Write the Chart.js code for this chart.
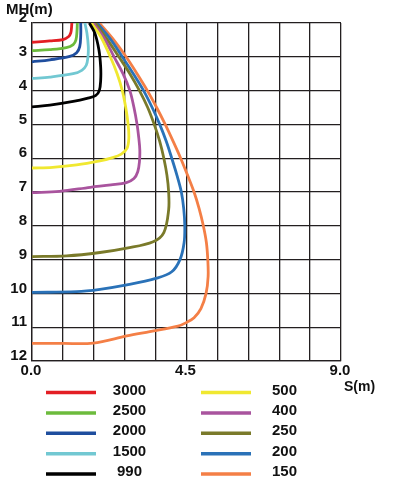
<!DOCTYPE html>
<html>
<head>
<meta charset="utf-8">
<script src="https://cdn.jsdelivr.net/npm/chart.js@4.4.1/dist/chart.umd.min.js"></script>
<style>
  html, body { margin: 0; padding: 0; background: #fff; }
  #wrap { position: relative; width: 397px; height: 490px; }
</style>
</head>
<body>
<div id="wrap"><canvas id="chart" width="397" height="490"></canvas></div>
<script>
  const FONT = "'Liberation Sans', Arial, sans-serif";
  const Y_TITLE = "MH(m)";
  const X_TITLE = "S(m)";

  // x grid every 0.9 m, labels only at these
  const xGrid = [0, 0.9, 1.8, 2.7, 3.6, 4.5, 5.4, 6.3, 7.2, 8.1, 9];
  const xLabels = [0, 4.5, 9];

  const seriesLabels = ["3000", "2500", "2000", "1500", "990", "500", "400", "250", "200", "150"];
  const seriesColors = ["#e31e24", "#6cbb3c", "#1f4e9e", "#72c8d2", "#000000",
                        "#f0e830", "#a9549e", "#7a7a2a", "#2a72b8", "#f47f46"];

  // [S, MH]
  const c3000 = [[1.16,2.0],[1.15,2.15],[1.13,2.29],[1.07,2.4],[0.9,2.49],[0.52,2.53],[0,2.57]];
  const c2500 = [[1.32,2.0],[1.31,2.25],[1.28,2.5],[1.2,2.64],[1.0,2.73],[0.52,2.79],[0,2.82]];
  const c2000 = [[1.42,2.0],[1.42,2.35],[1.39,2.7],[1.3,2.88],[1.1,2.99],[0.52,3.09],[0,3.15]];
  const c1500 = [[1.54,2.0],[1.6,2.3],[1.64,2.7],[1.63,3.0],[1.58,3.25],[1.45,3.4],[1.2,3.5],[0.52,3.6],[0,3.64]];
  const c990 = [[1.67,2.0],[1.83,2.3],[1.95,2.8],[2.0,3.3],[2.0,3.7],[1.96,4.0],[1.85,4.15],[1.6,4.23],[1.2,4.32],[0.52,4.43],[0,4.48]];
  const c500 = [[1.73,2.0],[2.0,2.4],[2.28,3.0],[2.48,3.5],[2.63,4.0],[2.73,4.5],[2.8,5.0],[2.82,5.4],[2.77,5.7],[2.6,5.88],[2.3,6.0],[1.98,6.08],[1.3,6.2],[0.6,6.27],[0,6.29]];
  const c400 = [[1.78,2.0],[2.1,2.45],[2.39,3.0],[2.65,3.5],[2.85,4.0],[2.97,4.5],[3.06,5.0],[3.11,5.4],[3.14,5.75],[3.13,6.1],[3.08,6.4],[2.97,6.6],[2.75,6.72],[2.3,6.79],[1.7,6.86],[0.8,6.98],[0,7.02]];
  const c250 = [[1.85,2.0],[2.2,2.5],[2.53,3.0],[2.85,3.5],[3.13,4.0],[3.37,4.5],[3.56,5.0],[3.72,5.5],[3.84,6.0],[3.93,6.5],[3.98,7.0],[3.98,7.53],[3.84,8.2],[3.53,8.47],[2.76,8.66],[1.98,8.79],[1.01,8.89],[0,8.91]];
  const c200 = [[1.9,2.0],[2.3,2.5],[2.63,3.0],[2.95,3.5],[3.25,4.0],[3.5,4.5],[3.72,5.0],[3.91,5.5],[4.07,6.0],[4.22,6.5],[4.35,7.0],[4.42,7.5],[4.45,8.0],[4.43,8.5],[4.31,9.0],[4.07,9.36],[3.63,9.55],[2.76,9.75],[1.98,9.88],[1.3,9.95],[0,9.97]];
  const c150 = [[1.96,2.0],[2.38,2.5],[2.74,3.0],[3.06,3.5],[3.36,4.0],[3.63,4.5],[3.88,5.0],[4.11,5.5],[4.33,6.0],[4.53,6.5],[4.72,7.0],[4.87,7.5],[4.99,8.0],[5.08,8.5],[5.12,9.0],[5.13,9.5],[5.07,10.0],[4.92,10.45],[4.72,10.72],[4.5,10.86],[4.25,10.97],[3.43,11.13],[2.76,11.26],[1.78,11.47],[0.9,11.48],[0,11.48]];

  const curves = [c3000, c2500, c2000, c1500, c990, c500, c400, c250, c200, c150];

  const extras = {
    id: "extras",
    afterDraw(chart) {
      const ctx = chart.ctx;
      ctx.save();
      ctx.fillStyle = "#111";
      ctx.textBaseline = "middle";
      ctx.textAlign = "left";
      ctx.font = `bold 15px ${FONT}`;
      ctx.fillText(Y_TITLE, 6, 10);
      ctx.font = `bold 14px ${FONT}`;
      ctx.fillText(X_TITLE, 344, 387);
      ctx.font = `bold 15px ${FONT}`;
      ctx.textAlign = "center";
      chart.data.datasets.forEach((ds, i) => {
        const col = Math.floor(i / 5);
        const row = i % 5;
        const x0 = col ? 201 : 46;
        const y = 392.5 + row * 20.4;
        ctx.strokeStyle = ds.borderColor;
        ctx.lineWidth = 3.5;
        ctx.beginPath();
        ctx.moveTo(x0, y);
        ctx.lineTo(x0 + 50, y);
        ctx.stroke();
        ctx.fillText(ds.label, col ? 284.5 : 129.5, y - 2);
      });
      ctx.restore();
    },
  };

  const gridColor = "#231f20";

  new Chart(document.getElementById("chart"), {
    type: "scatter",
    data: {
      datasets: curves.map((pts, i) => ({
        label: seriesLabels[i],
        data: pts.map(([s, mh]) => ({ x: s, y: mh })),
        showLine: true,
        borderColor: seriesColors[i],
        backgroundColor: seriesColors[i],
        borderWidth: 2.8,
        pointRadius: 0,
        tension: 0.35,
      })),
    },
    options: {
      responsive: false,
      devicePixelRatio: 1,
      animation: false,
      layout: { padding: { top: 23, right: 56, left: 0, bottom: 0 } },
      plugins: { legend: { display: false }, tooltip: { enabled: false } },
      scales: {
        x: {
          type: "linear",
          min: 0,
          max: 9,
          afterBuildTicks(scale) { scale.ticks = xGrid.map((v) => ({ value: v })); },
          afterFit(scale) { scale.height = 129; },
          grid: { color: gridColor, lineWidth: 1.3, drawTicks: false },
          border: { color: gridColor, width: 1.3 },
          ticks: {
            autoSkip: false,
            maxRotation: 0,
            padding: 1,
            labelOffset: -1,
            color: "#111",
            font: { family: FONT, size: 15, weight: "bold" },
            callback: (v) => (xLabels.some((l) => Math.abs(l - v) < 1e-6) ? Number(v).toFixed(1) : ""),
          },
        },
        y: {
          type: "linear",
          min: 2,
          max: 12,
          reverse: true,
          afterFit(scale) { scale.width = 32; },
          grid: { color: gridColor, lineWidth: 1.3, drawTicks: false },
          border: { color: gridColor, width: 1.3 },
          ticks: {
            stepSize: 1,
            padding: 5,
            labelOffset: -5,
            color: "#111",
            font: { family: FONT, size: 15, weight: "bold" },
          },
        },
      },
    },
    plugins: [extras],
  });
</script>
</body>
</html>
